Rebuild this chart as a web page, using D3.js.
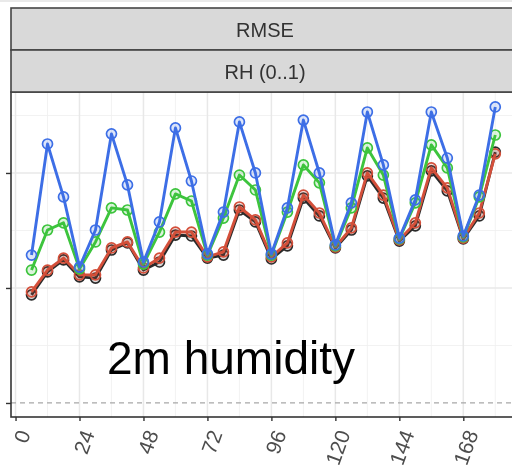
<!DOCTYPE html>
<html>
<head>
<meta charset="utf-8">
<script src="https://cdn.jsdelivr.net/npm/d3@7"></script>
<style>
  html, body { margin: 0; padding: 0; background: #fff; }
  svg { display: block; }
</style>
</head>
<body>
<script>
// Forecast lead times (hours)
const leadHours = [6, 12, 18, 24, 30, 36, 42, 48, 54, 60, 66, 72, 78, 84, 90,
                   96, 102, 108, 114, 120, 126, 132, 138, 144, 150, 156, 162, 168, 174, 180];

// RMSE of relative humidity (0..1) per configuration
const rmseBlue = [0.0643, 0.1126, 0.0896, 0.0591, 0.0752, 0.1170, 0.0948, 0.0613, 0.0787, 0.1196,
                  0.0965, 0.0648, 0.0830, 0.1222, 0.1000, 0.0648, 0.0848, 0.1230, 0.1000, 0.0687,
                  0.0870, 0.1265, 0.1035, 0.0717, 0.0883, 0.1265, 0.1065, 0.0726, 0.0904, 0.1287];
const rmseGreen = [0.0578, 0.0752, 0.0783, 0.0583, 0.0700, 0.0848, 0.0839, 0.0604, 0.0743, 0.0909,
                   0.0878, 0.0643, 0.0804, 0.0991, 0.0926, 0.0643, 0.0830, 0.1035, 0.0957, 0.0683,
                   0.0848, 0.1109, 0.0991, 0.0713, 0.0870, 0.1122, 0.1022, 0.0722, 0.0896, 0.1165];
const rmseRed = [0.0483, 0.0578, 0.0630, 0.0557, 0.0557, 0.0674, 0.0700, 0.0587, 0.0630, 0.0743,
                 0.0743, 0.0635, 0.0657, 0.0852, 0.0796, 0.0635, 0.0696, 0.0904, 0.0826, 0.0678,
                 0.0761, 0.1000, 0.0904, 0.0709, 0.0783, 0.1022, 0.0935, 0.0717, 0.0826, 0.1083];
const rmseBlack = [0.0470, 0.0570, 0.0622, 0.0548, 0.0543, 0.0665, 0.0696, 0.0578, 0.0613, 0.0730,
                   0.0726, 0.0630, 0.0643, 0.0839, 0.0787, 0.0626, 0.0683, 0.0891, 0.0813, 0.0674,
                   0.0752, 0.0987, 0.0891, 0.0704, 0.0770, 0.1009, 0.0922, 0.0713, 0.0813, 0.1091];

const xTicks = [0, 24, 48, 72, 96, 120, 144, 168];
const xMinor = [12, 36, 60, 84, 108, 132, 156, 180];
const yTicks = [0, 0.05, 0.1];
const yMinor = [0.025, 0.075, 0.125];

const stripLabels = ["RMSE", "RH (0..1)"];
const annotation = "2m humidity";

// drawing order: later series sit on top
const seriesList = [
  { values: rmseBlack, color: "#2b2b2b" },
  { values: rmseRed,   color: "#d4503a" },
  { values: rmseGreen, color: "#3cc43c" },
  { values: rmseBlue,  color: "#3c6ee6" }
];

const W = 512, H = 474;
const panel = { left: 11, right: 519, top: 92, bottom: 417 };
const stripTop = 8, stripH = 42;

const svg = d3.select("body").append("svg")
  .attr("width", W).attr("height", H)
  .style("font-family", "'Liberation Sans', Arial, Helvetica, sans-serif");

svg.append("rect").attr("width", W).attr("height", H).attr("fill", "#fff");

const defs = svg.append("defs");
defs.append("filter").attr("id", "soft")
  .attr("x", "-5%").attr("y", "-5%").attr("width", "110%").attr("height", "110%")
  .append("feGaussianBlur").attr("stdDeviation", 0.55);
defs.append("clipPath").attr("id", "panel-clip")
  .append("rect")
  .attr("x", panel.left).attr("y", panel.top)
  .attr("width", panel.right - panel.left).attr("height", panel.bottom - panel.top);

const x = d3.scaleLinear().domain([-1.7, 188.9]).range([panel.left, panel.right]);
const y = d3.scaleLinear().domain([-0.0061, 0.1352]).range([panel.bottom, panel.top]);

// plot body, softened slightly
const plot = svg.append("g").attr("filter", "url(#soft)");

// faint frame line along the very top
plot.append("line").attr("x1", 0).attr("x2", W).attr("y1", 1).attr("y2", 1)
  .attr("stroke", "#e2e2e2").attr("stroke-width", 1.5);

const grid = plot.append("g").attr("clip-path", "url(#panel-clip)");

// minor grid
grid.selectAll("line.xminor").data(xMinor).join("line")
  .attr("x1", d => x(d)).attr("x2", d => x(d))
  .attr("y1", panel.top).attr("y2", panel.bottom)
  .attr("stroke", "#f0f0f0").attr("stroke-width", 0.9);
grid.selectAll("line.yminor").data(yMinor).join("line")
  .attr("x1", panel.left).attr("x2", panel.right)
  .attr("y1", d => y(d)).attr("y2", d => y(d))
  .attr("stroke", "#f0f0f0").attr("stroke-width", 0.9);
// major grid
grid.selectAll("line.xmajor").data(xTicks).join("line")
  .attr("x1", d => x(d)).attr("x2", d => x(d))
  .attr("y1", panel.top).attr("y2", panel.bottom)
  .attr("stroke", "#e8e8e8").attr("stroke-width", 1.5);
grid.selectAll("line.ymajor").data(yTicks.filter(d => d !== 0)).join("line")
  .attr("x1", panel.left).attr("x2", panel.right)
  .attr("y1", d => y(d)).attr("y2", d => y(d))
  .attr("stroke", "#e8e8e8").attr("stroke-width", 1.5);

// zero reference line
grid.append("line")
  .attr("x1", panel.left).attr("x2", panel.right)
  .attr("y1", y(0)).attr("y2", y(0))
  .attr("stroke", "#a8a8a8").attr("stroke-width", 1.3)
  .attr("stroke-dasharray", "5,4");

// series
const lineGen = d3.line().x((d, i) => x(leadHours[i])).y(d => y(d));
const marks = plot.append("g").attr("clip-path", "url(#panel-clip)");
seriesList.forEach(s => {
  const g = marks.append("g");
  g.append("path").datum(s.values)
    .attr("d", lineGen)
    .attr("fill", "none").attr("stroke", s.color)
    .attr("stroke-width", 2.9).attr("stroke-linejoin", "round");
  g.selectAll("circle").data(s.values).join("circle")
    .attr("cx", (d, i) => x(leadHours[i])).attr("cy", d => y(d))
    .attr("r", 5)
    .attr("fill", s.color).attr("fill-opacity", 0.18)
    .attr("stroke", s.color).attr("stroke-width", 1.7);
});

// panel border
plot.append("rect")
  .attr("x", panel.left).attr("y", panel.top)
  .attr("width", panel.right - panel.left).attr("height", panel.bottom - panel.top)
  .attr("fill", "none").attr("stroke", "#333").attr("stroke-width", 1.6);

// y axis ticks (labels fall outside the drawing)
const yAxis = d3.axisLeft(y).tickValues(yTicks).tickSize(5).tickFormat("");
plot.append("g").attr("transform", `translate(${panel.left},0)`).call(yAxis)
  .call(g => g.select(".domain").remove())
  .call(g => g.selectAll(".tick line").attr("stroke", "#333").attr("stroke-width", 1.4));

// x axis
const xAxis = d3.axisBottom(x).tickValues(xTicks).tickSize(4).tickFormat(d3.format("d"));
const xg = plot.append("g").attr("transform", `translate(0,${panel.bottom})`).call(xAxis);
xg.select(".domain").remove();
xg.selectAll(".tick line").attr("stroke", "#333").attr("stroke-width", 1.4);
xg.selectAll(".tick text")
  .attr("font-size", 21)
  .attr("fill", "#4d4d4d")
  .attr("font-family", "'Liberation Sans', Arial, sans-serif")
  .attr("text-anchor", "end")
  .attr("x", 0).attr("y", 0).attr("dy", "0.35em")
  .attr("transform", "translate(8,14) rotate(-70)");

// facet strips
stripLabels.forEach((lab, i) => {
  const top = stripTop + i * stripH;
  plot.append("rect")
    .attr("x", panel.left).attr("y", top)
    .attr("width", panel.right - panel.left).attr("height", stripH)
    .attr("fill", "#d9d9d9").attr("stroke", "#444").attr("stroke-width", 1.6);
  plot.append("text")
    .attr("x", (panel.left + panel.right) / 2).attr("y", top + stripH / 2 + 1)
    .attr("text-anchor", "middle").attr("dominant-baseline", "central")
    .attr("font-size", 20).attr("fill", "#333")
    .text(lab);
});

// variable annotation
svg.append("text")
  .attr("x", 107).attr("y", 374)
  .attr("font-size", 46).attr("fill", "#000")
  .text(annotation);
</script>
</body>
</html>
